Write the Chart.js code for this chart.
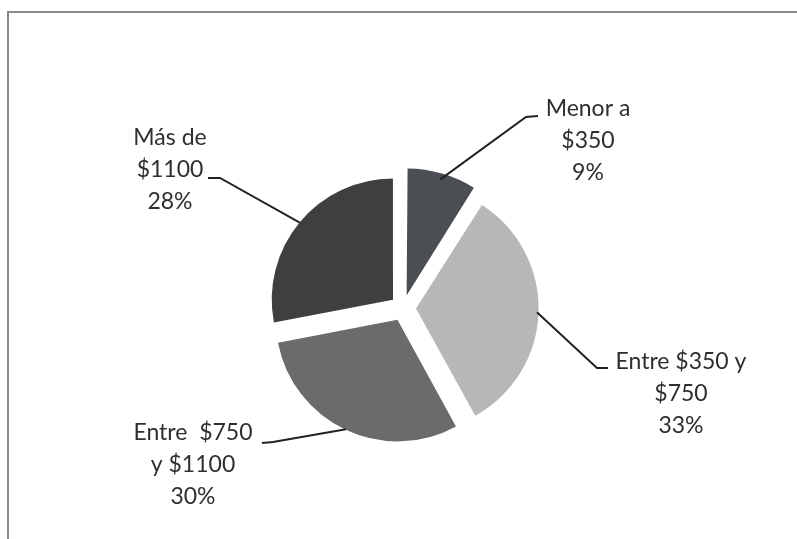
<!DOCTYPE html>
<html>
<head>
<meta charset="utf-8">
<script src="https://cdn.jsdelivr.net/npm/chart.js@4.4.1/dist/chart.umd.min.js"></script>
<style>
  html, body { margin: 0; padding: 0; background: #fff; }
  #wrap { position: relative; width: 797px; height: 539px; overflow: hidden; }
  #frame { position: absolute; left: 7px; top: 11px; width: 820px; height: 560px;
           border-top: 2px solid #8a8a8a; border-left: 2px solid #8a8a8a; }
  canvas { position: absolute; left: 0; top: 0; }
</style>
</head>
<body>
<div id="wrap">
  <div id="frame"></div>
  <canvas id="c" width="797" height="539"></canvas>
</div>
<script>
// ---- data ----
const categories = ["Menor a $350", "Entre $350 y $750", "Entre $750 y $1100", "Más de $1100"];
const labelLines = [["Menor a", "$350"], ["Entre $350 y", "$750"], ["Entre  $750", "y $1100"], ["Más de", "$1100"]];
const values = [9, 33, 30, 28];
const colors = ["#4b4e53", "#b6b8b8", "#6b6b6b", "#3f3f3f"];

// ---- label layout (positions only) ----
const labelLayout = [
  { elbow: [526, 117], end: [538, 116], cx: 588, y0: 109 },
  { elbow: [597, 368], end: [608, 368], cx: 681, y0: 362 },
  { elbow: [273, 442], end: [262, 443], cx: 193, y0: 433 },
  { elbow: [220, 178], end: [208, 178], cx: 170, y0: 138 }
];

const leaderPlugin = {
  id: 'leaders',
  afterDatasetsDraw(chart) {
    const ctx = chart.ctx;
    const meta = chart.getDatasetMeta(0);
    const total = values.reduce((a, b) => a + b, 0);
    meta.data.forEach((arc, i) => {
      const p = arc.getProps(['x', 'y', 'startAngle', 'endAngle', 'outerRadius'], true);
      const off = (arc.options.offset || 0) / 4;
      const mid = (p.startAngle + p.endAngle) / 2;
      const r = p.outerRadius + off;
      const sx = p.x + Math.cos(mid) * r;
      const sy = p.y + Math.sin(mid) * r;
      const L = labelLayout[i];
      ctx.save();
      ctx.strokeStyle = '#222';
      ctx.lineWidth = 2;
      ctx.beginPath();
      ctx.moveTo(sx, sy);
      ctx.lineTo(L.elbow[0], L.elbow[1]);
      ctx.lineTo(L.end[0], L.end[1]);
      ctx.stroke();
      ctx.fillStyle = '#2f2f2f';
      ctx.font = '23px Lato';
      ctx.textAlign = 'center';
      ctx.textBaseline = 'middle';
      const lines = labelLines[i].concat([Math.round(values[i] / total * 100) + '%']);
      lines.forEach((t, k) => ctx.fillText(t, L.cx, L.y0 + k * 32));
      ctx.restore();
    });
  }
};

new Chart(document.getElementById('c'), {
  type: 'pie',
  data: {
    labels: categories,
    datasets: [{
      data: values,
      backgroundColor: colors,
      borderWidth: 0,
      offset: 52,
      hoverOffset: 52
    }]
  },
  options: {
    responsive: false,
    animation: false,
    radius: 121,
    layout: { padding: { left: 9, right: 0, top: 77, bottom: 0 } },
    plugins: { legend: { display: false }, tooltip: { enabled: false } },
    events: []
  },
  plugins: [leaderPlugin]
});
</script>
</body>
</html>
